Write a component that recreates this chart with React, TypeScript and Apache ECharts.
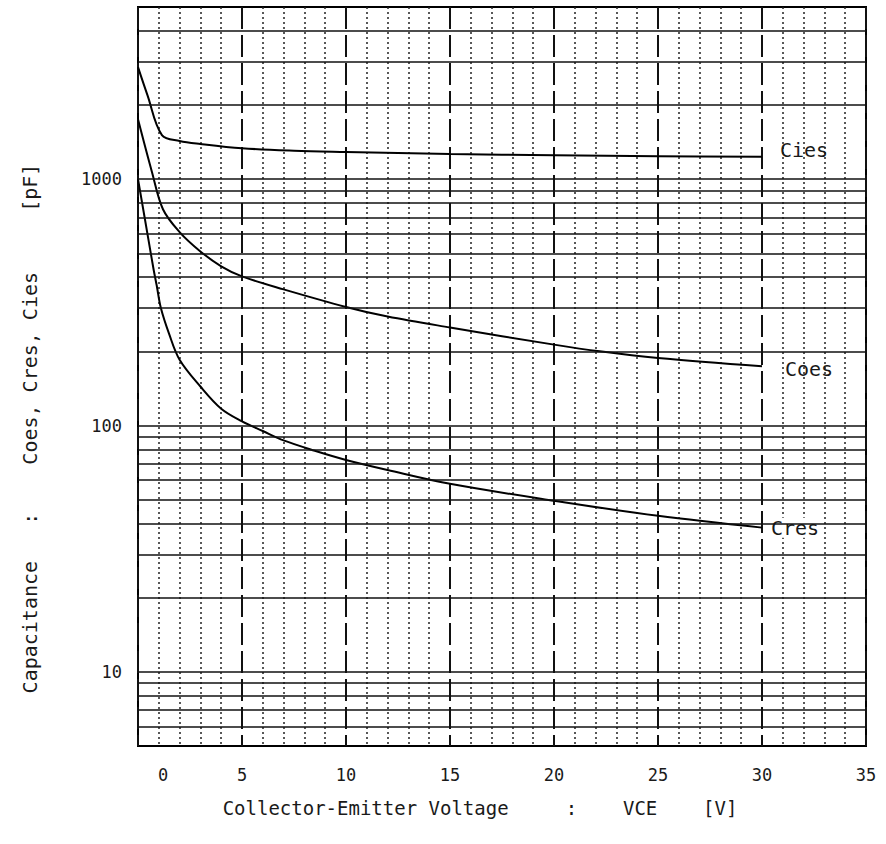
import React, { useEffect, useRef } from 'react';
import * as echarts from 'echarts';

// Data (VCE in V, capacitance in pF)
const ciesX = [0, 0.45, 1.15, 2, 3, 5, 7.5, 10, 15, 20, 25, 30];
const ciesY = [2850, 2200, 1510, 1430, 1390, 1335, 1305, 1290, 1265, 1250, 1240, 1232];

const coesX = [0, 0.67, 1.2, 2, 3, 4, 5, 7, 10, 12, 15, 20, 22.2, 25, 30];
const coesY = [1750, 1070, 755, 610, 509, 443, 403, 357, 303, 277, 250, 213, 200, 188, 174];

const cresX = [0, 0.5, 0.75, 0.9, 1.1, 1.5, 2, 3, 4, 5, 6, 7, 8.5, 10, 12, 15, 20, 25, 30];
const cresY = [1000, 570, 430, 370, 300, 235, 185, 144, 117, 104, 95, 87, 79, 72.5, 66, 58, 49.5, 43, 38.5];

const gridValues = [
  6, 7, 8, 9, 10, 20, 30, 40, 50, 60, 70, 80, 90,
  100, 200, 300, 400, 500, 600, 700, 800, 900,
  1000, 2000, 3000, 4000,
];
const yTickLabels = [10, 100, 1000];

const FONT = "'DejaVu Sans Mono', 'Liberation Mono', monospace";
const INK = '#1a1a1a';

function pairs(xs: number[], ys: number[]) {
  return xs.map((x, i) => [x, ys[i]]);
}

function endLabel(text: string, offset: number[], bg: boolean) {
  return {
    show: true,
    formatter: text,
    distance: 0,
    offset,
    fontFamily: FONT,
    fontSize: 20,
    color: INK,
    backgroundColor: bg ? '#ffffff' : 'transparent',
    padding: bg ? [0, 4, 0, 2] : 0,
  };
}

export default function App() {
  const ref = useRef<HTMLDivElement>(null);

  useEffect(() => {
    document.body.style.margin = '0';
    if (!ref.current) return;
    const chart = echarts.init(ref.current, undefined, { renderer: 'svg' });
    const lineStyle = { color: '#000', width: 2 };
    const common = {
      type: 'line',
      showSymbol: false,
      symbol: 'none',
      smooth: 0.35,
      lineStyle,
      z: 3,
    };
    chart.setOption({
      animation: false,
      backgroundColor: '#ffffff',
      grid: {
        left: 138,
        right: 20,
        top: 7,
        bottom: 98,
        show: true,
        borderColor: '#000',
        borderWidth: 2,
        backgroundColor: 'transparent',
      },
      xAxis: {
        type: 'value',
        min: 0,
        max: 35,
        interval: 5,
        name: 'Collector-Emitter Voltage     :    VCE    [V]',
        nameLocation: 'middle',
        nameGap: 52,
        nameTextStyle: {
          fontFamily: FONT,
          fontSize: 19,
          color: INK,
          padding: [0, 44, 0, 0],
        },
        axisLine: { show: false },
        axisTick: { show: false },
        axisLabel: {
          margin: 20,
          fontFamily: FONT,
          fontSize: 17,
          color: INK,
          formatter: (v: number) => (v === 0 ? '{z|0}' : String(v)),
          rich: {
            z: { fontFamily: FONT, fontSize: 17, color: INK, padding: [0, 0, 0, 50] },
          },
        },
        splitLine: {
          show: true,
          lineStyle: { color: '#111', width: 2, type: [22, 6] },
        },
        minorTick: { show: false, splitNumber: 5 },
        minorSplitLine: {
          show: true,
          lineStyle: { color: '#222', width: 1.5, type: [2, 3] },
        },
      },
      yAxis: {
        type: 'log',
        logBase: 10,
        min: 5,
        max: 5000,
        name: 'Capacitance   :    Coes, Cres, Cies     [pF]',
        nameLocation: 'middle',
        nameGap: 98,
        nameTextStyle: {
          fontFamily: FONT,
          fontSize: 20,
          color: INK,
          padding: [0, 104, 0, 0],
        },
        axisLine: { show: false },
        axisTick: { show: false },
        splitLine: { show: false },
        axisLabel: {
          margin: 16,
          fontFamily: FONT,
          fontSize: 17,
          color: INK,
          formatter: (v: number) => {
            const r = Math.round(v);
            return yTickLabels.includes(r) ? String(r) : '';
          },
        },
      },
      series: [
        {
          ...common,
          name: 'Cies',
          data: pairs(ciesX, ciesY),
          endLabel: endLabel('Cies', [18, -7], false),
          markLine: {
            silent: true,
            symbol: ['none', 'none'],
            label: { show: false },
            lineStyle: { color: '#111', width: 1.6, type: 'solid' },
            emphasis: { disabled: true },
            data: gridValues.map((v) => ({ yAxis: v })),
          },
        },
        {
          ...common,
          name: 'Coes',
          data: pairs(coesX, coesY),
          endLabel: endLabel('Coes', [23, 3], false),
        },
        {
          ...common,
          name: 'Cres',
          data: pairs(cresX, cresY),
          endLabel: endLabel('Cres', [7, 0], true),
        },
      ],
    });
    return () => chart.dispose();
  }, []);

  return <div ref={ref} style={{ width: 886, height: 844 }} />;
}
